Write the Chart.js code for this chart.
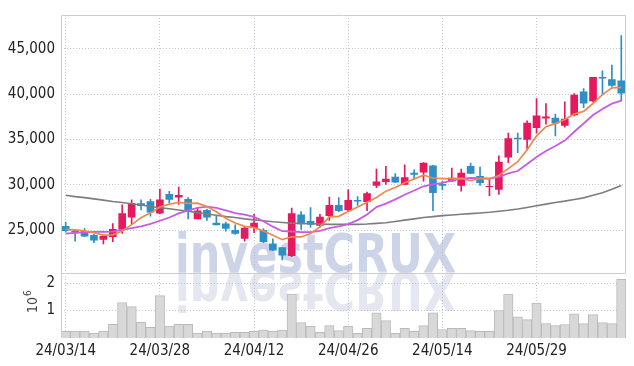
<!DOCTYPE html>
<html><head><meta charset="utf-8">
<script src="https://cdn.jsdelivr.net/npm/chart.js@4.4.0/dist/chart.umd.min.js"></script>
<style>html,body{margin:0;padding:0;background:#fff;}#wrap{width:634px;height:366px;position:relative;}canvas{display:block;}</style>
</head><body><div id="wrap"><canvas id="c" width="634" height="366" style="width:634px;height:366px"></canvas></div>
<script>
const dates = ['24/03/14','24/03/15','24/03/18','24/03/19','24/03/20','24/03/21','24/03/22','24/03/25','24/03/26','24/03/27',
'24/03/28','24/03/29','24/04/01','24/04/02','24/04/03','24/04/04','24/04/05','24/04/08','24/04/09','24/04/11',
'24/04/12','24/04/15','24/04/16','24/04/17','24/04/18','24/04/19','24/04/22','24/04/23','24/04/24','24/04/25',
'24/04/26','24/04/29','24/04/30','24/05/02','24/05/03','24/05/07','24/05/08','24/05/09','24/05/10','24/05/13',
'24/05/14','24/05/16','24/05/17','24/05/20','24/05/21','24/05/22','24/05/23','24/05/24','24/05/27','24/05/28',
'24/05/29','24/05/30','24/05/31','24/06/03','24/06/04','24/06/05','24/06/07','24/06/10','24/06/11','24/06/12'];
const open = [25450,24950,24900,24450,24000,24300,25100,26450,27950,28150,26900,28950,28650,28400,26250,27200,25800,25700,25000,24100,25300,25000,23500,23100,22200,26700,26000,25550,26600,27750,27250,28300,28150,29950,30350,30850,30050,31300,31400,32100,30050,30400,29950,32050,30950,29800,29500,33050,35150,35000,36300,37350,37350,36550,37700,40250,39250,41850,41600,41450];
const high = [25900,25000,25200,24550,24450,25750,27800,28350,28350,28400,29550,29300,29750,28600,27500,27350,26600,25900,25600,25450,26750,25200,24050,23100,27450,27050,27500,26750,28650,28600,29450,28700,29200,31750,32050,31250,32200,31650,32450,32150,30400,31850,31750,32400,31950,30600,33200,35700,35700,37050,39500,38950,37800,39150,40050,40600,41850,42550,43200,46450];
const low = [24800,23800,24300,23650,23500,23750,24650,25700,27250,26550,26800,28050,27850,26250,26250,26100,25600,24900,24550,23800,24750,23650,22750,21750,22100,25100,25350,25350,26100,27050,27050,27750,27150,29700,30050,30250,30050,30600,30400,27150,29450,30400,29300,31250,29950,28800,28950,32450,33550,33850,35700,36700,35400,36350,37600,38500,39150,39950,40850,39250];
const close = [24950,24800,24350,23900,24350,25100,26850,27950,27700,27000,28350,28400,28850,27200,27150,26450,25600,25200,24650,25250,25800,23750,22800,22250,26850,25700,25650,26450,27750,27150,28300,28200,29050,30350,30650,30300,30800,31150,32400,29150,29950,30750,31300,31250,30250,29850,32500,35100,35050,36800,37600,37500,36800,37250,39900,39000,41850,41750,40950,40100];
const volume = [0.24,0.25,0.25,0.18,0.25,0.50,1.29,1.14,0.57,0.39,1.54,0.43,0.50,0.50,0.18,0.25,0.18,0.18,0.21,0.21,0.24,0.29,0.24,0.29,1.60,0.56,0.42,0.21,0.45,0.27,0.42,0.17,0.35,0.92,0.63,0.17,0.35,0.24,0.45,0.92,0.31,0.35,0.35,0.27,0.24,0.24,1.00,1.60,0.77,0.67,1.27,0.52,0.45,0.49,0.88,0.52,0.85,0.56,0.52,2.13];
const maShort = [25110,25040,24930,24750,24470,24500,24910,25630,26390,26920,27570,27880,28060,27960,27990,27610,27050,26320,25810,25430,25300,24930,24450,23970,24290,24270,24650,25380,26480,26540,27060,27570,28090,28610,29310,29710,30230,30650,31060,30760,30690,30680,30710,30480,30700,30680,31030,31790,32550,33860,35410,36410,36750,37190,37810,38090,38960,39950,40690,40730];
const maMid = [24640,24710,24780,24820,24820,24860,25040,25250,25430,25700,26050,26410,26860,27190,27470,27600,27480,27200,26900,26720,26470,26000,25400,24900,24870,24800,24800,24930,25240,25430,25680,26120,26750,27560,27940,28400,28910,29380,29850,30050,30210,30470,30690,30780,30740,30700,30870,31260,31530,32290,33060,33730,34280,34880,35850,36760,37700,38360,38950,39280];
const maLong = [28860,28710,28600,28460,28320,28170,28060,27920,27780,27630,27490,27380,27230,27090,26950,26800,26660,26510,26410,26260,26150,26050,25940,25860,25790,25760,25720,25690,25650,25650,25650,25650,25690,25760,25830,25970,26120,26260,26410,26510,26620,26690,26770,26840,26910,26980,27090,27200,27340,27520,27700,27880,28060,28210,28390,28570,28860,29140,29510,29940];
const priceTicks = [25000,30000,35000,40000,45000];
const volumeTicks = [1,2];

const UP = '#e5195e', DOWN = '#2d8fc6';
const candleColors = close.map((c,i)=> c >= open[i] ? UP : DOWN);
const wicks = low.map((l,i)=>[l, high[i]]);
const bodies = open.map((o,i)=>[Math.min(o, close[i]), Math.max(o, close[i])]);

const FONT = "'Liberation Sans Narrow','DejaVu Sans Condensed',sans-serif";
const GRID = 'rgba(165,170,200,0.65)';

const watermark = {
  id:'wm',
  beforeDraw(chart){
    const ctx = chart.ctx, text = 'investCRUX';
    ctx.save();
    ctx.font = "bold 54px 'DejaVu Sans', sans-serif";
    ctx.textBaseline = 'alphabetic';
    const sx = 281 / ctx.measureText(text).width;
    const x0 = 175, base = 272;
    ctx.save(); ctx.translate(x0, base); ctx.scale(sx, -1);
    ctx.fillStyle = 'rgb(228,230,240)'; ctx.fillText(text, 0, 0); ctx.restore();
    ctx.save(); ctx.translate(x0, base); ctx.scale(sx, 1);
    ctx.fillStyle = 'rgb(205,212,232)'; ctx.fillText(text, 0, 0); ctx.restore();
    ctx.restore();
  }
};
const frame = {
  id:'frame',
  afterDraw(chart){
    const ctx = chart.ctx, a = chart.chartArea, y = chart.scales.y;
    ctx.save();
    ctx.strokeStyle = '#cdcdcd'; ctx.lineWidth = 1;
    ctx.beginPath();
    ctx.moveTo(a.left + 0.5, a.top + 0.5); ctx.lineTo(a.right - 0.5, a.top + 0.5);
    ctx.lineTo(a.right - 0.5, Math.round(y.bottom) + 0.5);
    ctx.moveTo(a.left + 0.5, Math.round(y.bottom) + 0.5); ctx.lineTo(a.right - 0.5, Math.round(y.bottom) + 0.5);
    ctx.moveTo(a.left + 0.5, a.top + 0.5); ctx.lineTo(a.left + 0.5, a.bottom);
    ctx.stroke();
    ctx.fillStyle = '#444';
    ctx.translate(37, 313); ctx.rotate(-Math.PI/2);
    ctx.font = "14px " + FONT; ctx.textBaseline = 'alphabetic';
    ctx.fillText('10', 0, 0);
    const w = ctx.measureText('10').width;
    ctx.font = "10px " + FONT;
    ctx.fillText('6', w + 1, -6);
    ctx.restore();
  }
};

new Chart(document.getElementById('c'), {
  type:'bar',
  data:{
    labels: dates,
    datasets:[
      {type:'line', data:maShort, yAxisID:'y', borderColor:'#f0884c', borderWidth:1.7, pointRadius:0, order:0},
      {type:'line', data:maMid, yAxisID:'y', borderColor:'#c85be6', borderWidth:1.8, pointRadius:0, order:0},
      {type:'line', data:maLong, yAxisID:'y', borderColor:'#7d7d7d', borderWidth:1.6, pointRadius:0, order:0},
      {data:bodies, yAxisID:'y', backgroundColor:candleColors, barThickness:7, grouped:false, borderWidth:0, order:1},
      {data:wicks, yAxisID:'y', backgroundColor:candleColors, barThickness:1, grouped:false, borderWidth:0, order:2},
      {data:volume, yAxisID:'yv', backgroundColor:'#d8d8d8', borderColor:'#bababa', borderWidth:1, barPercentage:1, categoryPercentage:1, grouped:false, order:3}
    ]
  },
  options:{
    responsive:false, animation:false, devicePixelRatio:1,
    layout:{padding:{left:0,right:8,top:9,bottom:0}},
    plugins:{legend:{display:false}, tooltip:{enabled:false}},
    scales:{
      x:{
        offset:true,
        grid:{offset:false, drawTicks:false, color:(c)=> c.index % 10 === 0 ? GRID : 'rgba(0,0,0,0)'},
        border:{display:false, dash:[1,2]},
        ticks:{autoSkip:false, maxRotation:0, padding:4, color:'#222', font:{family:FONT, size:15},
          callback:(v,i)=> i % 10 === 0 ? dates[i] : ''},
        afterFit:(s)=>{ s.height = 28; }
      },
      y:{
        position:'left', stack:'p', stackWeight:263, weight:2,
        min:20276, max:48708,
        afterBuildTicks:(s)=>{ s.ticks = priceTicks.map(v=>({value:v})); },
        grid:{drawTicks:false, color:GRID},
        border:{display:false, dash:[1,2]},
        ticks:{padding:6, color:'#222', font:{family:FONT, size:15}, callback:(v)=> v.toLocaleString('en-US')},
        afterFit:(s)=>{ s.width = 61; }
      },
      yv:{
        position:'left', stack:'p', stackWeight:66, weight:1,
        min:0, max:2.357,
        afterBuildTicks:(s)=>{ s.ticks = volumeTicks.map(v=>({value:v})); },
        grid:{drawTicks:false, color:GRID},
        border:{display:false, dash:[1,2]},
        ticks:{padding:6, color:'#222', font:{family:FONT, size:15}, callback:(v)=> String(v)},
        afterFit:(s)=>{ s.width = 61; }
      }
    }
  },
  plugins:[watermark, frame]
});
</script></body></html>
